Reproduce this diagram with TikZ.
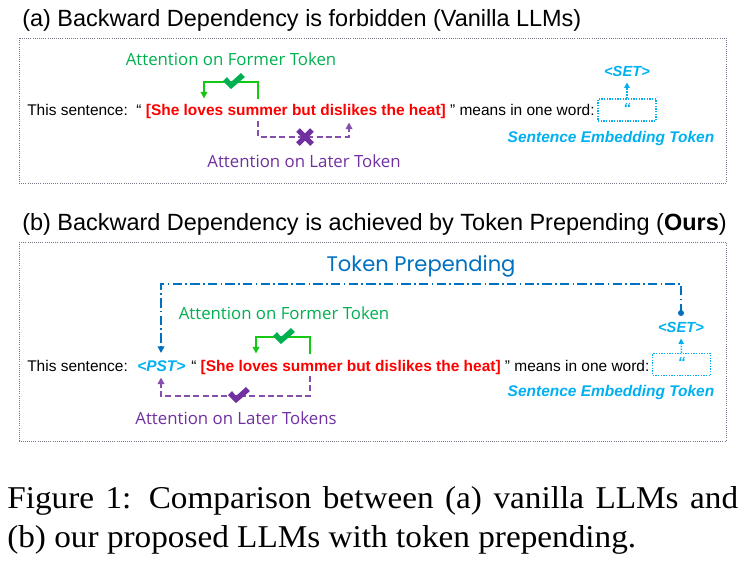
\documentclass[tikz,border=0pt]{standalone}
\usepackage{fontspec}
\setmainfont{Liberation Sans}
\newfontfamily\capfont{Liberation Serif}
\newfontfamily\attfont{Open Sans}
\newfontfamily\tpfont{Poppins}
\usetikzlibrary{arrows.meta}
\definecolor{cgreen}{RGB}{0,176,80}
\definecolor{cbright}{RGB}{20,200,20}
\definecolor{cpurple}{RGB}{112,48,160}
\definecolor{ccyan}{RGB}{0,176,240}
\definecolor{cblue}{RGB}{0,112,192}
\definecolor{cframe}{RGB}{120,120,140}
\tikzset{
  frame/.style={draw=cframe, densely dotted, line width=0.6pt},
  titletext/.style={anchor=base west, inner sep=0pt, font=\fontsize{17.6}{20}\selectfont},
  senttext/.style={anchor=base west, inner sep=0pt, font=\fontsize{11.6}{13}\selectfont},
  att/.style={inner sep=0pt, font=\attfont\fontsize{12.6}{14}\selectfont},
  settext/.style={inner sep=0pt, text=ccyan, font=\fontsize{11}{13}\selectfont\bfseries\itshape},
  embtext/.style={inner sep=0pt, text=ccyan, font=\fontsize{11.6}{13}\selectfont\bfseries\itshape},
  captext/.style={anchor=base west, inner sep=0pt, font=\capfont\fontsize{23.8}{28}\selectfont},
  gline/.style={draw=cbright, line width=1.5pt, -{Triangle[length=5pt,width=5pt]}},
  pline/.style={draw=cpurple!85, line width=1.5pt, dash pattern=on 4.5pt off 2.5pt, -{Triangle[length=5pt,width=5pt]}},
  cline/.style={draw=ccyan, line width=1.1pt, densely dotted, -{Triangle[length=4pt,width=4pt]}},
  tpline/.style={draw=cblue, line width=1.1pt, dash pattern=on 7pt off 2.5pt on 1.2pt off 2.5pt},
  setbox/.style={draw=ccyan, densely dotted, line width=1pt, minimum width=43.5pt, minimum height=16.5pt, inner sep=0pt},
  chk/.pic={\fill (-8,-8)--(-4,-12)--(0,-7)--(10,-16)--(14,-12)--(0,0)--cycle;},
}
\begin{document}
\begin{tikzpicture}[x=0.75pt,y=-0.75pt]
\useasboundingbox (0,0) rectangle (746,568);

% ---------------- (a) ----------------
\node[titletext] (ta) at (22,26.5) {(a) Backward Dependency is forbidden (Vanilla LLMs)};
\draw[frame] (19,38) rectangle (726,183);

\node[senttext] (sa) at (27,115.5) {This sentence:\ \ “ \textcolor{red}{\textbf{[She loves summer but dislikes the heat]}} ” means in one word:};

\node[att, text=cgreen] (fa) at (231,59) {Attention on Former Token};
\coordinate (ga0) at (258,99);
\coordinate (ga1) at (258,82);
\coordinate (ga2) at (204,82);
\coordinate (ga3) at (204,98.5);
\draw[gline] (ga0) -- (ga1) -- (ga2) -- (ga3);
\pic[cgreen] at (231,89) {chk};

\coordinate (pa0) at (258,121);
\coordinate (pa1) at (258,137);
\coordinate (pa2) at (349,137);
\coordinate (pa3) at (349,122.5);
\draw[pline] (pa0) -- (pa1) -- (pa2) -- (pa3);
\draw[cpurple, line width=3.8pt] (298,130) -- (312,144) (312,130) -- (298,144);
\node[att, text=cpurple] (la) at (304,161) {Attention on Later Token};

\node[setbox] (boxa) at (627,110) {};
\node[settext, anchor=base] (qa) at (627,113) {“};
\node[settext] (seta) at (627,71) {<SET>};
\draw[cline] (boxa.north) -- (627,82.5);
\node[embtext] (ea) at (611,138) {Sentence Embedding Token};

% ---------------- (b) ----------------
\node[titletext] (tb) at (22,230) {(b) Backward Dependency is achieved by Token Prepending (\textbf{Ours})};
\draw[frame] (19,242) rectangle (726,441);

\node[inner sep=0pt, text=cblue, font=\tpfont\fontsize{15.8}{18}\selectfont] (tp) at (421,266) {Token Prepending};

\node[senttext] (sb1) at (27,371) {This sentence:};
\node[senttext, text=ccyan, font=\fontsize{11.6}{13}\selectfont\bfseries\itshape] (pst) at (137,371) {<PST>};
\node[senttext] (sb2) at (191,371) {“ \textcolor{red}{\textbf{[She loves summer but dislikes the heat]}} ” means in one word:};

\coordinate (tp0) at (681,313);
\coordinate (tp1) at (681,284);
\coordinate (tp2) at (161,284);
\coordinate (tp3) at (161,353);
\fill[cblue] (tp0) circle (3);
\draw[tpline, -{Triangle[length=5pt,width=5pt]}] (tp0) -- (tp1) -- (tp2) -- (tp3);

\node[setbox] (boxb) at (681.5,364.5) {};
\node[settext, anchor=base] (qb) at (681.5,367.5) {“};
\node[settext] (setb) at (681,327) {<SET>};
\draw[cline] (boxb.north) -- (681,338.5);
\node[embtext] (eb) at (611,392) {Sentence Embedding Token};

\node[att, text=cgreen] (fb) at (284,313) {Attention on Former Token};
\coordinate (gb0) at (310,354);
\coordinate (gb1) at (310,337);
\coordinate (gb2) at (256,337);
\coordinate (gb3) at (256,353.5);
\draw[gline] (gb0) -- (gb1) -- (gb2) -- (gb3);
\pic[cgreen] at (281,344) {chk};

\coordinate (pb0) at (310,376);
\coordinate (pb1) at (310,396);
\coordinate (pb2) at (161,396);
\coordinate (pb3) at (161,377.5);
\draw[pline] (pb0) -- (pb1) -- (pb2) -- (pb3);
\pic[cpurple] at (236,403) {chk};
\node[att, text=cpurple] (lb) at (236,418) {Attention on Later Tokens};

% ---------------- caption ----------------
\node[captext] (c1) at (7,508) {\scalebox{1.048}[1]{\hbox to 523pt{Figure 1: Comparison between (a) vanilla LLMs and}}};
\node[captext] (c2) at (7,547) {\scalebox{1.048}[1]{(b) our proposed LLMs with token prepending.}};
\end{tikzpicture}
\end{document}
